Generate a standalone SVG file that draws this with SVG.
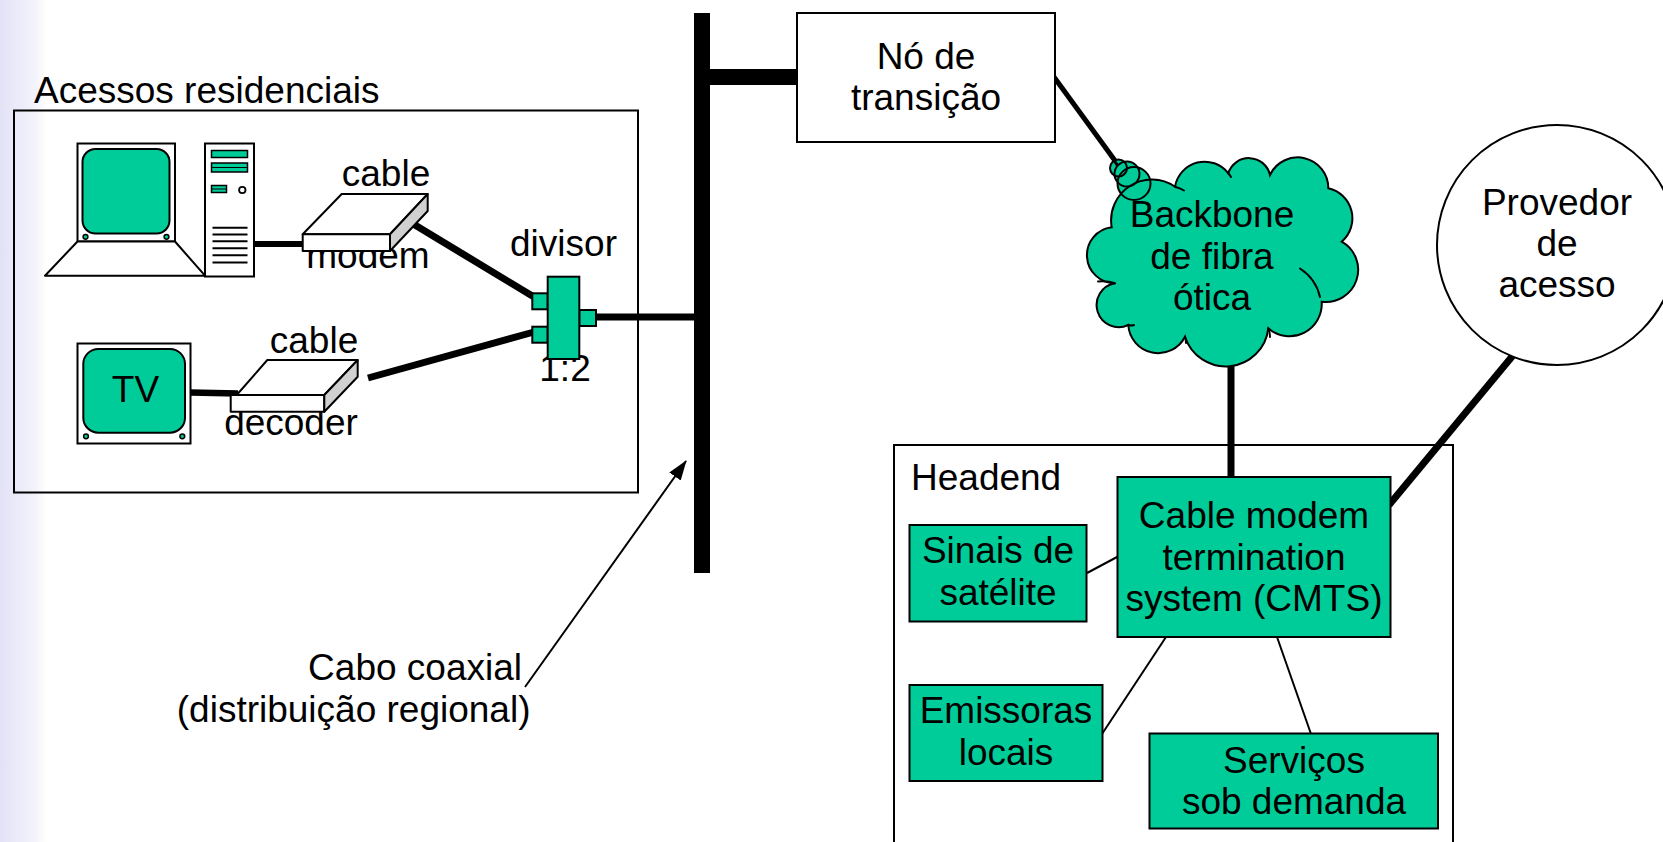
<svg xmlns="http://www.w3.org/2000/svg" width="1663" height="842" viewBox="0 0 1663 842">
  <defs>
    <linearGradient id="edgeFade" x1="0" y1="0" x2="1" y2="0">
      <stop offset="0" stop-color="#e2e2f6"/>
      <stop offset="0.8" stop-color="#f4f4fc"/>
      <stop offset="1" stop-color="#ffffff"/>
    </linearGradient>
    <marker id="arrowHead" markerUnits="userSpaceOnUse" markerWidth="20" markerHeight="14" viewBox="0 0 20 14" refX="19" refY="7" orient="auto">
      <path d="M0,0 L20,7 L0,14 z" fill="#000"/>
    </marker>
    <style>
      .t { font-family: 'Liberation Sans', Arial, Helvetica, sans-serif; font-size: 37px; fill: #000; }
      .c { text-anchor: middle; }
      .e { text-anchor: end; }
      .box { fill: #fff; stroke: #000; stroke-width: 2; }
      .frame { fill: none; stroke: #000; stroke-width: 2; }
      .green { fill: #00cc99; stroke: #000; stroke-width: 2; }
      .shade { fill: #d0d0d0; stroke: #000; stroke-width: 2; stroke-linejoin: round; }
      .flat { fill: #fff; stroke: #000; stroke-width: 2; stroke-linejoin: round; }
      .thick { stroke: #000; stroke-width: 7; fill: none; }
      .thin { stroke: #000; stroke-width: 2; fill: none; }
      .crease { stroke: #000; stroke-width: 2; fill: none; stroke-linecap: round; }
      .bubble-fill { fill: #00cc99; stroke: none; }
      .bubble-edge { fill: none; stroke: #000; stroke-width: 2; }
    </style>
  </defs>

  <rect x="0" y="0" width="1663" height="842" fill="#fff"/>
  <rect x="0" y="0" width="46" height="842" fill="url(#edgeFade)"/>

  <!-- containers -->
  <g id="residential-access">
    <rect class="frame" x="14" y="110.5" width="624" height="382"/>
    <text class="t" x="34" y="103">Acessos residenciais</text>
  </g>
  <g id="headend">
    <rect class="frame" x="894" y="445" width="559" height="420"/>
    <text class="t" x="911" y="490">Headend</text>
  </g>

  <!-- connectors -->
  <g id="connectors">
    <line class="thick" x1="254" y1="244" x2="304" y2="244" style="stroke-width:6"/>
    <line class="thick" x1="405" y1="219" x2="534" y2="297"/>
    <line class="thick" x1="190" y1="392.5" x2="238" y2="393.5" style="stroke-width:6.5"/>
    <line class="thick" x1="368" y1="378" x2="534" y2="332"/>
    <line class="thick" x1="594" y1="317" x2="696" y2="317"/>
    <rect x="694" y="13" width="16" height="560" fill="#000"/>
    <rect x="708" y="69" width="91" height="16" fill="#000"/>
    <line class="thick" x1="1054" y1="77" x2="1116" y2="162" style="stroke-width:5"/>
    <line class="thick" x1="1231" y1="360" x2="1231" y2="480"/>
    <line class="thick" x1="1515" y1="353" x2="1389" y2="505"/>
    <line class="thin" x1="1087" y1="573" x2="1118" y2="556.5"/>
    <line class="thin" x1="1166" y1="637" x2="1102" y2="734"/>
    <line class="thin" x1="1277" y1="637" x2="1311" y2="734"/>
    <line class="thin" x1="525" y1="687" x2="686" y2="461" marker-end="url(#arrowHead)"/>
  </g>

  <!-- desktop computer -->
  <g id="computer">
    <rect class="box" x="77.5" y="143.5" width="97.5" height="98"/>
    <rect class="green" x="82.5" y="149" width="87" height="84.5" rx="13" ry="13"/>
    <circle class="green" cx="85.5" cy="236.8" r="2.4" style="stroke-width:1.5"/>
    <circle class="green" cx="166.5" cy="236.8" r="2.4" style="stroke-width:1.5"/>
    <polygon class="flat" points="77.5,241.5 175,241.5 205,275.7 45,275.7"/>
    <rect class="box" x="205" y="143.5" width="49" height="133"/>
    <rect class="green" x="211.5" y="150.5" width="36" height="7" style="stroke-width:1.5"/>
    <rect class="green" x="211.5" y="163" width="36" height="9" style="stroke-width:1.5"/>
    <line x1="211.5" y1="167.5" x2="247.5" y2="167.5" stroke="#000" stroke-width="1.2"/>
    <rect class="green" x="211.5" y="185.5" width="15" height="7" style="stroke-width:1.5"/>
    <line x1="211.5" y1="189" x2="226.5" y2="189" stroke="#000" stroke-width="1"/>
    <circle cx="242.3" cy="190" r="3.2" fill="#fff" stroke="#000" stroke-width="1.8"/>
    <g stroke="#000" stroke-width="2">
      <line x1="212.5" y1="227.7" x2="247.5" y2="227.7"/>
      <line x1="212.5" y1="234.5" x2="247.5" y2="234.5"/>
      <line x1="212.5" y1="241.2" x2="247.5" y2="241.2"/>
      <line x1="212.5" y1="248.3" x2="247.5" y2="248.3"/>
      <line x1="212.5" y1="255.3" x2="247.5" y2="255.3"/>
      <line x1="212.5" y1="262.6" x2="247.5" y2="262.6"/>
    </g>
  </g>

  <!-- cable modem -->
  <g id="cable-modem">
    <text class="t c" x="386" y="186">cable</text>
    <text class="t c" x="368" y="268">modem</text>
    <polygon class="flat" points="341.7,194 427.7,194 390,234.3 302.7,234.3"/>
    <rect class="flat" x="302.7" y="234.3" width="87.3" height="16.7"/>
    <polygon class="shade" points="390,234.3 427.7,194 427.7,211 390,251"/>
  </g>

  <!-- television -->
  <g id="tv">
    <rect class="box" x="77.5" y="343.5" width="113" height="100"/>
    <rect class="green" x="83.3" y="349" width="101.7" height="83.7" rx="15" ry="15"/>
    <circle class="green" cx="86" cy="436.3" r="2.4" style="stroke-width:1.5"/>
    <circle class="green" cx="182.3" cy="436.3" r="2.4" style="stroke-width:1.5"/>
    <text class="t c" x="135.5" y="401.7">TV</text>
  </g>

  <!-- cable decoder -->
  <g id="cable-decoder">
    <text class="t c" x="314" y="352.5">cable</text>
    <text class="t c" x="291" y="434.5">decoder</text>
    <polygon class="flat" points="267.3,360 357.7,360 324.3,395 236.7,395"/>
    <rect class="flat" x="230.7" y="395" width="93.6" height="16.7"/>
    <polygon class="shade" points="324.3,395 357.7,360 357.7,376.7 324.3,411.7"/>
  </g>

  <!-- 1:2 splitter -->
  <g id="splitter">
    <text class="t c" x="563.5" y="255.5">divisor</text>
    <text class="t c" x="565" y="381">1:2</text>
    <rect class="green" x="532.3" y="293.3" width="15.4" height="16"/>
    <rect class="green" x="532.3" y="326.7" width="15.4" height="16"/>
    <rect class="green" x="579.3" y="310" width="16.7" height="16"/>
    <rect class="green" x="547.7" y="276.7" width="31.6" height="82.3"/>
  </g>

  <!-- transition node -->
  <g id="transition-node">
    <rect class="box" x="797" y="13" width="258" height="129"/>
    <text class="t c" x="926" y="69">Nó de</text>
    <text class="t c" x="926" y="109.5">transição</text>
  </g>

  <!-- fibre backbone cloud, with its three callout bubbles -->
  <g id="fiber-backbone">
    <circle class="bubble-fill" cx="1134" cy="183.5" r="16.5"/>
    <circle class="bubble-fill" cx="1127" cy="174" r="12.5"/>
    <circle class="bubble-fill" cx="1118.5" cy="168" r="8.5"/>
    <path class="green" d="M1111.7,227.3 A40.8,40.8 0 0 1 1175,186.7 A30,30 0 0 1 1228.3,173.3 A21.6,21.6 0 0 1 1270,175 A30.6,30.6 0 0 1 1328.3,188.3 A30.8,30.8 0 0 1 1341.7,241.7 A32.2,32.2 0 0 1 1321.7,301.7 A32.3,32.3 0 0 1 1268.3,328.3 A42.8,42.8 0 0 1 1185,336.7 A30,30 0 0 1 1128.3,325 A22.1,22.1 0 1 1 1115,283.3 A28.1,28.1 0 0 1 1111.7,227.3 Z"/>
    <path class="crease" d="M1098,281.5 Q1107,280.5 1115,283.3"/>
    <path class="crease" d="M1300,268.5 Q1316,279 1320,297"/>
    <path class="crease" d="M1175,186.7 Q1180,188 1184,190.5"/>
    <path class="crease" d="M1228.3,173.3 Q1230,175 1231,177"/>
    <path class="crease" d="M1268.3,328.3 Q1270,332 1270,337"/>
    <path class="crease" d="M1185,336.7 Q1186,340 1186,343"/>
    <path class="crease" d="M1128.3,325 Q1131,326 1134,325"/>
    <circle class="bubble-edge" cx="1134" cy="183.5" r="16.5"/>
    <circle class="bubble-edge" cx="1127" cy="174" r="12.5"/>
    <circle class="bubble-edge" cx="1118.5" cy="168" r="8.5"/>
    <line x1="1110" y1="155" x2="1118" y2="166" stroke="#000" stroke-width="3"/>
    <text class="t c" x="1212" y="227">Backbone</text>
    <text class="t c" x="1212" y="268.5">de fibra</text>
    <text class="t c" x="1212" y="310">ótica</text>
  </g>

  <!-- access provider -->
  <g id="access-provider">
    <circle class="box" cx="1557" cy="245" r="120"/>
    <text class="t c" x="1557" y="215">Provedor</text>
    <text class="t c" x="1557" y="256">de</text>
    <text class="t c" x="1557" y="297">acesso</text>
  </g>

  <!-- headend equipment -->
  <g id="cmts">
    <rect class="green" x="1117.5" y="477" width="273" height="160"/>
    <text class="t c" x="1254" y="528">Cable modem</text>
    <text class="t c" x="1254" y="569.5">termination</text>
    <text class="t c" x="1254" y="611">system (CMTS)</text>
  </g>
  <g id="satellite-signals">
    <rect class="green" x="909.5" y="525" width="177" height="96.5"/>
    <text class="t c" x="998" y="563">Sinais de</text>
    <text class="t c" x="998" y="605">satélite</text>
  </g>
  <g id="local-broadcasters">
    <rect class="green" x="909.5" y="685" width="193" height="96"/>
    <text class="t c" x="1006" y="723">Emissoras</text>
    <text class="t c" x="1006" y="765">locais</text>
  </g>
  <g id="on-demand-services">
    <rect class="green" x="1149.5" y="733.5" width="288.5" height="95"/>
    <text class="t c" x="1294" y="773">Serviços</text>
    <text class="t c" x="1294" y="813.5">sob demanda</text>
  </g>

  <!-- coax callout -->
  <g id="coax-label">
    <text class="t e" x="522" y="680">Cabo coaxial</text>
    <text class="t e" x="530.5" y="721.5">(distribuição regional)</text>
  </g>
</svg>
